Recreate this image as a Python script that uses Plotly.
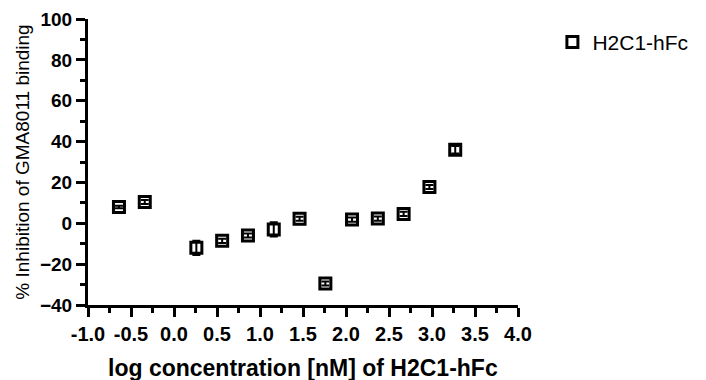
import plotly.graph_objects as go

# log concentration [nM] of H2C1-hFc (two-fold dilution series)
log_conc = [-0.64, -0.34, 0.26, 0.56, 0.86, 1.16, 1.46, 1.76, 2.07, 2.37, 2.67, 2.97, 3.27]
# mean % inhibition of GMA8011 binding
inhibition = [8.0, 10.4, -12.0, -8.6, -6.0, -3.0, 2.2, -29.5, 1.8, 2.3, 4.6, 17.8, 36.0]
# standard deviation of replicates
inhibition_sd = [0.6, 1.0, 3.5, 1.0, 1.0, 3.5, 1.0, 1.0, 1.0, 1.0, 1.0, 1.0, 1.8]

series_name = "H2C1-hFc"
x_title = "log concentration [nM] of H2C1-hFc"
y_title = "% Inhibition of GMA8011 binding"
x_ticks = [-1.0, -0.5, 0.0, 0.5, 1.0, 1.5, 2.0, 2.5, 3.0, 3.5, 4.0]
y_ticks = [-40, -20, 0, 20, 40, 60, 80, 100]

FONT = "Liberation Sans, Arial, sans-serif"

fig = go.Figure()
fig.add_trace(go.Scatter(
    x=log_conc,
    y=inhibition,
    mode="markers",
    name=series_name,
    marker=dict(symbol="square-open", size=11, color="black", line=dict(width=3, color="black")),
    error_y=dict(type="data", array=inhibition_sd, visible=True, color="black", thickness=2, width=4),
))

# x-axis title placed below the tick labels
fig.add_annotation(
    text=x_title, xref="paper", yref="paper", x=0.5, y=0,
    xanchor="center", yanchor="top", yshift=-48, showarrow=False,
    font=dict(family=FONT, size=23, color="black", weight="bold"),
)

fig.update_layout(
    width=706,
    height=380,
    margin=dict(l=88, r=188, t=19, b=75, autoexpand=False),
    paper_bgcolor="white",
    plot_bgcolor="white",
    showlegend=True,
    legend=dict(
        x=1.08, y=0.99, xanchor="left", yanchor="top",
        font=dict(family=FONT, size=21, color="black"),
        bgcolor="rgba(0,0,0,0)",
    ),
    xaxis=dict(
        range=[-1.0, 4.0],
        tickvals=x_ticks,
        ticktext=[f"{v:.1f}" for v in x_ticks],
        ticks="outside", ticklen=9, tickwidth=3, tickcolor="black",
        minor=dict(dtick=0.25, tick0=-1.0, ticks="outside", ticklen=5, tickwidth=3, tickcolor="black"),
        showline=True, linewidth=3, linecolor="black",
        showgrid=False, zeroline=False,
        tickfont=dict(family=FONT, size=20, color="black", weight="bold"),
        automargin=False,
    ),
    yaxis=dict(
        range=[-40, 100],
        tickvals=y_ticks,
        ticks="outside", ticklen=9, tickwidth=3, tickcolor="black",
        minor=dict(dtick=10, tick0=-40, ticks="outside", ticklen=5, tickwidth=3, tickcolor="black"),
        showline=True, linewidth=3, linecolor="black",
        showgrid=False, zeroline=False,
        tickfont=dict(family=FONT, size=19, color="black", weight="bold"),
        title=dict(text=y_title,
                   font=dict(family=FONT, size=19, color="black"),
                   standoff=6),
        automargin=False,
    ),
)

fig.write_html("out.html")
